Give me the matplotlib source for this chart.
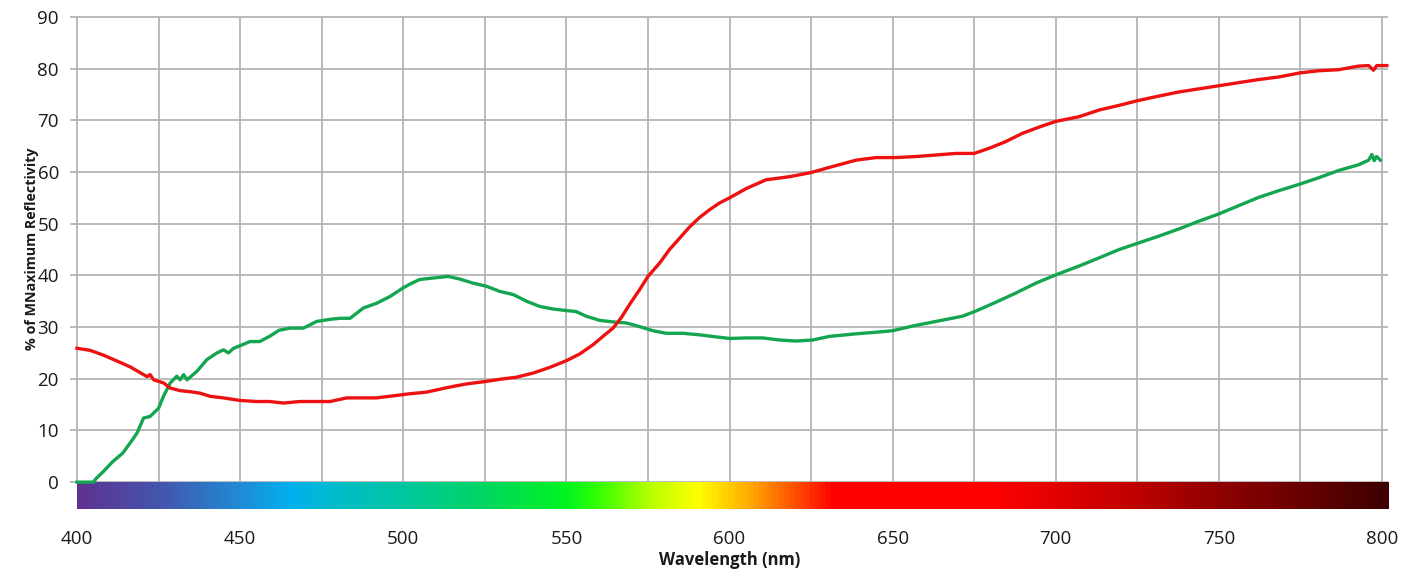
import numpy as np
import matplotlib
matplotlib.use("Agg")
import matplotlib.pyplot as plt
from matplotlib.colors import LinearSegmentedColormap

# ---- data ----
wl_green = [400, 405, 406, 408, 411, 414, 417, 418.4, 420.4, 422.4, 425, 426.5, 428.6, 430.6, 431.6,
            432.7, 433.7, 436.7, 439.8, 442.9, 444.9, 446.4, 448, 450, 453, 456, 459, 462, 465.3,
            469.4, 473.5, 477.6, 480.6, 483.7, 487.8, 491.8, 495.9, 500, 502, 505, 509.2, 513.8,
            517.3, 521.4, 525.5, 529.6, 533.7, 537.8, 541.8, 545.9, 550, 553, 556.1, 560.2, 564.3,
            568.4, 572.4, 576.5, 580.6, 585.7, 590.8, 595.9, 600, 605, 610.2, 615.3, 620.4, 625.5,
            630.6, 638.8, 644.9, 650, 656.1, 663.3, 671.4, 675.5, 681.6, 687.8, 693.9, 700, 707.1,
            713.3, 719.4, 725, 731.6, 737.8, 743.9, 750, 756.1, 762.2, 768.4, 775, 780.6, 786.7,
            792.8, 795.9, 796.9, 797.6, 798.3, 799.5]
refl_green = [0, 0, 0.8, 2, 4, 5.6, 8.2, 9.5, 12.4, 12.7, 14.3, 16.6, 19.2, 20.5, 19.8,
              20.8, 19.8, 21.4, 23.7, 25, 25.6, 25, 25.9, 26.4, 27.2, 27.2, 28.2, 29.4, 29.8,
              29.8, 31.1, 31.5, 31.7, 31.7, 33.7, 34.6, 35.9, 37.6, 38.3, 39.2, 39.5, 39.8,
              39.3, 38.5, 37.9, 36.9, 36.3, 35, 34, 33.5, 33.2, 33, 32.1, 31.3, 31,
              30.8, 30.1, 29.3, 28.8, 28.8, 28.5, 28.1, 27.8, 27.9, 27.9, 27.5, 27.3, 27.5,
              28.2, 28.7, 29, 29.3, 30.2, 31.1, 32.1, 33.1, 34.8, 36.6, 38.5, 40.1, 41.8,
              43.4, 45, 46.2, 47.6, 49, 50.5, 51.9, 53.5, 55.1, 56.4, 57.7, 58.9, 60.3,
              61.4, 62.3, 63.4, 62.2, 63, 62.3]

wl_red = [400, 404, 408, 412, 416.3, 420.4, 421.5, 422.4, 423.5, 426.5, 428.6, 431.6, 434.7, 437.8,
          440.8, 444.9, 450, 455, 459, 463.3, 468.4, 473.5, 477.6, 482.7, 486.7, 491.8, 497, 502,
          507, 514.3, 519.4, 525.5, 529.6, 534.7, 539.8, 544.9, 550, 554.1, 558.2, 561.2, 564.3,
          566.8, 569.4, 572.4, 575, 578.6, 581.6, 584.7, 587.8, 590.8, 593.9, 596.9, 600, 605.1,
          611.2, 618.4, 625, 630.6, 638.8, 644.9, 651, 657.1, 663.3, 669.4, 675, 679.6, 684.7,
          689.8, 694.9, 700, 707.1, 713.3, 719.4, 725, 731.6, 737.8, 743.9, 750, 756.1, 762.2,
          768.4, 775, 780.6, 786.7, 792.8, 795.9, 797.4, 798.4, 801.5]
refl_red = [25.9, 25.5, 24.6, 23.5, 22.3, 20.8, 20.4, 20.8, 19.8, 19.2, 18.2, 17.7, 17.5, 17.2,
            16.6, 16.3, 15.8, 15.6, 15.6, 15.3, 15.6, 15.6, 15.6, 16.3, 16.3, 16.3, 16.7, 17.1,
            17.4, 18.4, 19, 19.5, 19.9, 20.3, 21.1, 22.2, 23.5, 24.8, 26.6, 28.2, 29.8,
            31.8, 34.4, 37.2, 39.8, 42.4, 45, 47.2, 49.4, 51.2, 52.7, 54, 55, 56.8,
            58.5, 59.1, 59.9, 60.9, 62.3, 62.8, 62.8, 63, 63.3, 63.6, 63.6, 64.6, 65.9,
            67.5, 68.7, 69.8, 70.7, 72, 72.9, 73.8, 74.7, 75.5, 76.1, 76.7, 77.3, 77.9,
            78.4, 79.2, 79.6, 79.8, 80.5, 80.6, 79.7, 80.6, 80.6]

x_ticks = [400, 450, 500, 550, 600, 650, 700, 750, 800]
x_grid = list(range(400, 801, 25))
y_ticks = [0, 10, 20, 30, 40, 50, 60, 70, 80, 90]

spec_pos = [400, 425, 450, 465, 480, 500, 525, 550, 560, 575, 590, 605, 620, 632, 680, 700, 725, 750, 775, 802]
spec_col = ['#5e3292', '#4356ad', '#1f8cd6', '#00b0ef', '#00bcc8', '#00c79e', '#00d660', '#00f520',
            '#38ff00', '#b4ff00', '#ffff00', '#ffb000', '#ff5000', '#ff0000', '#ff0000', '#e20000',
            '#be0000', '#900000', '#6a0000', '#3c0000']

plt.rcParams['font.family'] = ['Open Sans', 'DejaVu Sans']

fig = plt.figure(figsize=(14.06, 5.72), dpi=100)
ax = fig.add_axes([77 / 1406, 1 - 509 / 572, (1382 - 77) / 1406, (509 - 17) / 572])
ax.set_xlim(400, 800)
y_bottom = -5.2
ax.set_ylim(y_bottom, 90)
for s in ax.spines.values():
    s.set_visible(False)

grid_c = '#b4b4b4'
ax.hlines(y_ticks, 397.8, 801.8, colors=grid_c, linewidth=1.3, clip_on=False, zorder=1)
ax.vlines(x_grid, 0, 90, colors=grid_c, linewidth=1.3, clip_on=False, zorder=1)

# spectrum bar
lo, hi = spec_pos[0], spec_pos[-1]
cmap = LinearSegmentedColormap.from_list(
    'spec', [((p - lo) / (hi - lo), c) for p, c in zip(spec_pos, spec_col)])
grad = np.linspace(0, 1, 1024)[None, :]
ax.imshow(grad, cmap=cmap, aspect='auto', extent=[lo, hi, y_bottom, -0.15],
          clip_on=False, zorder=2, interpolation='bilinear')

ax.plot(wl_green, refl_green, color='#14a550', linewidth=2.4, zorder=4, clip_on=False,
        solid_joinstyle='round')
ax.plot(wl_red, refl_red, color='#ee1111', linewidth=2.4, zorder=5, clip_on=False,
        solid_joinstyle='round')

ax.set_xticks(x_ticks)
ax.set_yticks(y_ticks)
ax.tick_params(axis='both', length=0, labelsize=13.5, labelcolor='#1a1a1a')
ax.tick_params(axis='x', pad=15)
ax.tick_params(axis='y', pad=13)

ax.set_xlabel('Wavelength (nm)', fontsize=12, fontweight='bold', color='#1a1a1a')
ax.xaxis.set_label_coords(0.5, -0.085)
ax.set_ylabel('% of MNaximum Reflectivity', fontsize=10.3, fontweight='bold', color='#1a1a1a')
ax.yaxis.set_label_coords(-0.029, 0.528)

fig.savefig('out.png', dpi=100, facecolor='white')
